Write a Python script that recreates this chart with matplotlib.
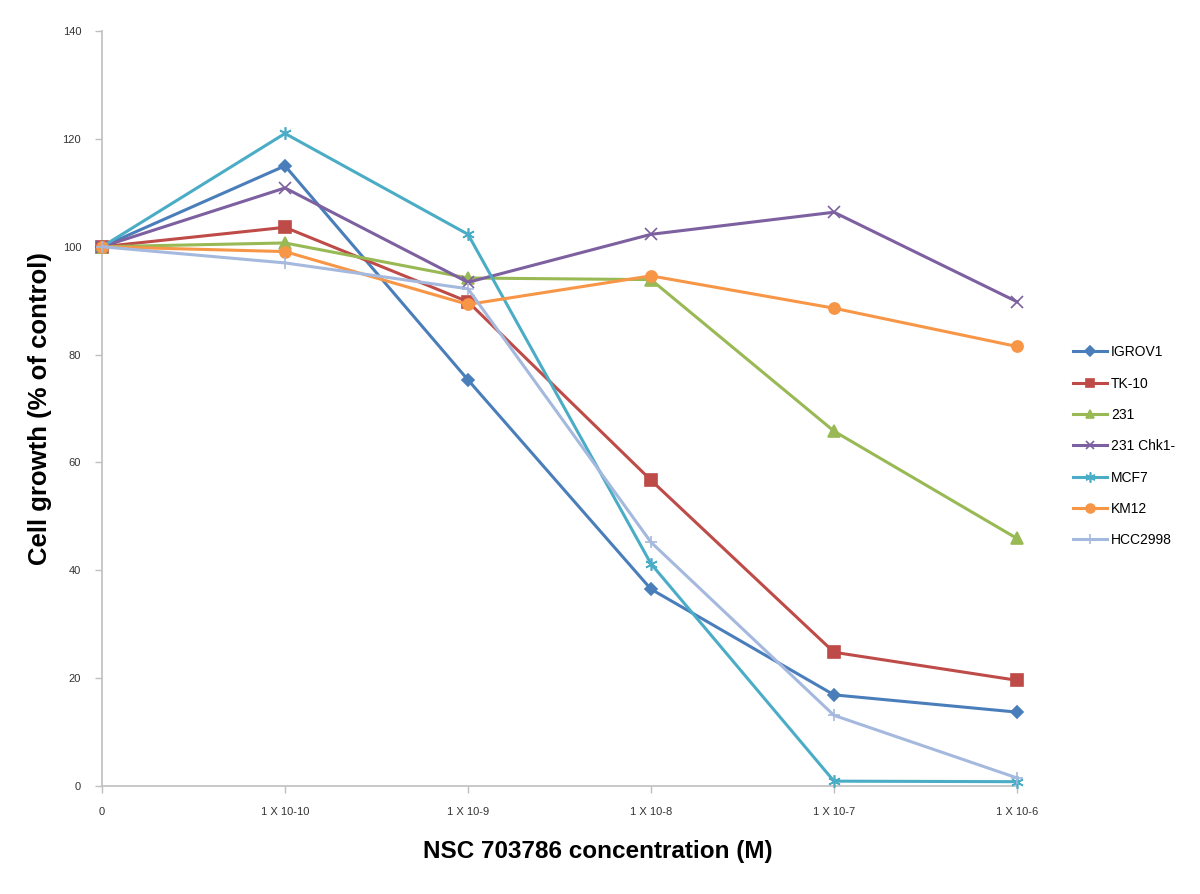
import matplotlib
matplotlib.use("Agg")
import matplotlib.pyplot as plt

# concentrations (categorical x axis)
concentrations = ["0", "1 X 10-10", "1 X 10-9", "1 X 10-8", "1 X 10-7", "1 X 10-6"]

igrov1 = [100, 115.0, 75.3, 36.5, 16.9, 13.7]
tk10 = [100, 103.6, 89.8, 56.7, 24.8, 19.6]
mda231 = [100, 100.7, 94.2, 93.9, 65.8, 45.9]
mda231_chk1 = [100, 110.9, 93.4, 102.3, 106.4, 89.8]
mcf7 = [100, 121.0, 102.3, 41.2, 0.9, 0.8]
km12 = [100, 99.1, 89.3, 94.6, 88.6, 81.5]
hcc2998 = [100, 97.0, 92.2, 45.2, 13.1, 1.5]

series = [
    ("IGROV1", igrov1, "#4A7EBB", "D", 6),
    ("TK-10", tk10, "#BE4B48", "s", 8),
    ("231", mda231, "#98B954", "^", 8),
    ("231 Chk1-", mda231_chk1, "#7D60A0", "x", 8),
    ("MCF7", mcf7, "#4BACC6", (6, 2, 0), 9),
    ("KM12", km12, "#F79646", "o", 8),
    ("HCC2998", hcc2998, "#A5B9DE", "+", 9),
]

fig = plt.figure(figsize=(12, 8.94), dpi=100)
ax = fig.add_axes([0.085, 0.1208, 0.7625, 0.8445])

x = list(range(len(concentrations)))
for name, vals, color, marker, ms in series:
    ax.plot(x, vals, color=color, lw=2.2, marker=marker, markersize=ms,
            markeredgewidth=1.2, markeredgecolor=color, markerfacecolor=color,
            label=name, clip_on=False, zorder=3)

ax.set_xlim(0, len(concentrations) - 1)
ax.set_ylim(0, 140)
ax.set_yticks(range(0, 141, 20))
ax.set_xticks(x)
ax.set_xticklabels(concentrations)

for side in ["top", "right"]:
    ax.spines[side].set_visible(False)
for side in ["left", "bottom"]:
    ax.spines[side].set_color("#BFBFBF")
    ax.spines[side].set_linewidth(1.2)
ax.tick_params(axis="both", colors="#BFBFBF", length=5, width=1, direction="out",
               labelcolor="#333333", labelsize=8, pad=10)
for lbl in ax.get_yticklabels() + ax.get_xticklabels():
    lbl.set_family("Liberation Sans")

ax.set_xlabel("NSC 703786 concentration (M)", fontsize=17.5, fontweight="bold",
              family="Liberation Sans")
ax.xaxis.set_label_coords(0.542, -0.072)
ax.set_ylabel("Cell growth (% of control)", fontsize=18.5, fontweight="bold",
              family="Liberation Sans")
ax.yaxis.set_label_coords(-0.055, 0.5)

leg = ax.legend(loc="center left", bbox_to_anchor=(1.048, 0.45), frameon=False,
                prop={"family": "Liberation Sans", "size": 10},
                handlelength=2.4, labelspacing=1.25, handletextpad=0.3,
                markerscale=0.8)

fig.savefig("out.png", dpi=100)
